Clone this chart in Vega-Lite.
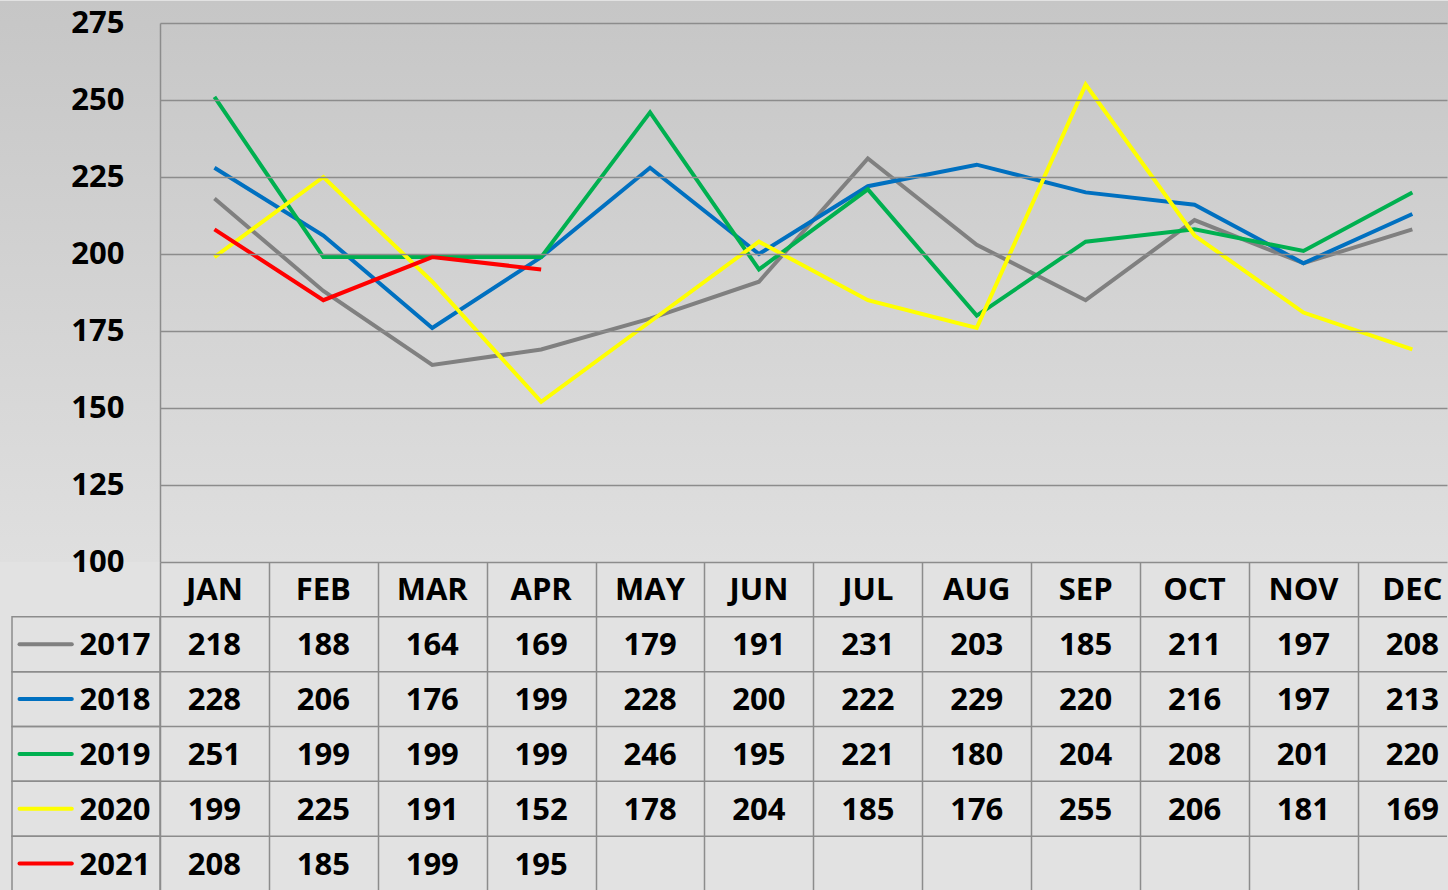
{
  "$schema": "https://vega.github.io/schema/vega-lite/v6.json",
  "background": "#e2e2e2",
  "padding": 0,
  "autosize": {"type": "pad"},
  "spacing": 0,
  "bounds": "flush",
  "config": {"view": {"stroke": null}, "font": "Open Sans", "text": {"font": "Open Sans"}},
  "resolve": {"scale": {"x": "independent", "y": "independent"}},
  "data": {"values": [
    {"year": "2017", "m": 1, "month": "JAN", "v": 218}, {"year": "2017", "m": 2, "month": "FEB", "v": 188}, {"year": "2017", "m": 3, "month": "MAR", "v": 164}, {"year": "2017", "m": 4, "month": "APR", "v": 169}, {"year": "2017", "m": 5, "month": "MAY", "v": 179}, {"year": "2017", "m": 6, "month": "JUN", "v": 191}, {"year": "2017", "m": 7, "month": "JUL", "v": 231}, {"year": "2017", "m": 8, "month": "AUG", "v": 203}, {"year": "2017", "m": 9, "month": "SEP", "v": 185}, {"year": "2017", "m": 10, "month": "OCT", "v": 211}, {"year": "2017", "m": 11, "month": "NOV", "v": 197}, {"year": "2017", "m": 12, "month": "DEC", "v": 208},
    {"year": "2018", "m": 1, "month": "JAN", "v": 228}, {"year": "2018", "m": 2, "month": "FEB", "v": 206}, {"year": "2018", "m": 3, "month": "MAR", "v": 176}, {"year": "2018", "m": 4, "month": "APR", "v": 199}, {"year": "2018", "m": 5, "month": "MAY", "v": 228}, {"year": "2018", "m": 6, "month": "JUN", "v": 200}, {"year": "2018", "m": 7, "month": "JUL", "v": 222}, {"year": "2018", "m": 8, "month": "AUG", "v": 229}, {"year": "2018", "m": 9, "month": "SEP", "v": 220}, {"year": "2018", "m": 10, "month": "OCT", "v": 216}, {"year": "2018", "m": 11, "month": "NOV", "v": 197}, {"year": "2018", "m": 12, "month": "DEC", "v": 213},
    {"year": "2019", "m": 1, "month": "JAN", "v": 251}, {"year": "2019", "m": 2, "month": "FEB", "v": 199}, {"year": "2019", "m": 3, "month": "MAR", "v": 199}, {"year": "2019", "m": 4, "month": "APR", "v": 199}, {"year": "2019", "m": 5, "month": "MAY", "v": 246}, {"year": "2019", "m": 6, "month": "JUN", "v": 195}, {"year": "2019", "m": 7, "month": "JUL", "v": 221}, {"year": "2019", "m": 8, "month": "AUG", "v": 180}, {"year": "2019", "m": 9, "month": "SEP", "v": 204}, {"year": "2019", "m": 10, "month": "OCT", "v": 208}, {"year": "2019", "m": 11, "month": "NOV", "v": 201}, {"year": "2019", "m": 12, "month": "DEC", "v": 220},
    {"year": "2020", "m": 1, "month": "JAN", "v": 199}, {"year": "2020", "m": 2, "month": "FEB", "v": 225}, {"year": "2020", "m": 3, "month": "MAR", "v": 191}, {"year": "2020", "m": 4, "month": "APR", "v": 152}, {"year": "2020", "m": 5, "month": "MAY", "v": 178}, {"year": "2020", "m": 6, "month": "JUN", "v": 204}, {"year": "2020", "m": 7, "month": "JUL", "v": 185}, {"year": "2020", "m": 8, "month": "AUG", "v": 176}, {"year": "2020", "m": 9, "month": "SEP", "v": 255}, {"year": "2020", "m": 10, "month": "OCT", "v": 206}, {"year": "2020", "m": 11, "month": "NOV", "v": 181}, {"year": "2020", "m": 12, "month": "DEC", "v": 169},
    {"year": "2021", "m": 1, "month": "JAN", "v": 208}, {"year": "2021", "m": 2, "month": "FEB", "v": 185}, {"year": "2021", "m": 3, "month": "MAR", "v": 199}, {"year": "2021", "m": 4, "month": "APR", "v": 195}
  ]},
  "vconcat": [
    {
      "width": 1287,
      "height": 539,
      "layer": [
        {
          "data": {"values": [{"bg": 1}]},
          "mark": {"type": "rect", "fill": {"gradient": "linear", "x1": 0, "y1": 0, "x2": 0, "y2": 1, "stops": [{"offset": 0, "color": "#c6c6c6"}, {"offset": 1, "color": "#dfdfdf"}]}},
          "encoding": {
            "x": {"datum": -0.96924, "type": "quantitative", "scale": {"domain": [0.5, 12.3182], "nice": false, "zero": false}, "axis": null},
            "x2": {"datum": 12.3274},
            "y": {"datum": 100, "type": "quantitative", "scale": {"domain": [100, 275], "nice": false, "zero": false},
              "axis": {"zindex": 1, "values": [100, 125, 150, 175, 200, 225, 250, 275], "grid": true, "gridColor": "#8c8c8c", "gridWidth": 1.5, "domain": true, "domainColor": "#8c8c8c", "domainWidth": 1.5, "ticks": false, "labelPadding": 36, "labelFont": "Open Sans", "labelFontSize": 31, "labelFontWeight": "bold", "labelColor": "#000000", "title": null}},
            "y2": {"datum": 282.143}
          }
        },
        {
          "mark": {"type": "line", "strokeWidth": 4},
          "encoding": {
            "x": {"field": "m", "type": "quantitative"},
            "y": {"field": "v", "type": "quantitative"},
            "color": {"field": "year", "type": "nominal", "scale": {"domain": ["2017", "2018", "2019", "2020", "2021"], "range": ["#808080", "#0070c0", "#00b050", "#ffff00", "#ff0000"]}, "legend": null}
          }
        }
      ]
    },
    {
      "width": 1287,
      "height": 329,
      "layer": [
        {
          "transform": [{"filter": "datum.m == 1"}],
          "mark": {"type": "rect", "fill": null, "stroke": "#8c8c8c", "strokeWidth": 1.5},
          "encoding": {
            "x": {"datum": -0.859, "type": "quantitative", "scale": {"domain": [0.5, 12.3182], "nice": false, "zero": false},
              "axis": {"values": [0.5, 1.5, 2.5, 3.5, 4.5, 5.5, 6.5, 7.5, 8.5, 9.5, 10.5, 11.5], "grid": true, "gridColor": "#8c8c8c", "gridWidth": 1.5, "labels": false, "ticks": false, "domain": false, "title": null}},
            "x2": {"datum": 0.5},
            "y": {"field": "year", "type": "nominal", "scale": {"domain": ["MON", "2017", "2018", "2019", "2020", "2021"], "paddingInner": 0, "paddingOuter": 0},
              "axis": {"labelExpr": "datum.value == 'MON' ? '' : datum.value", "domain": false, "ticks": false, "grid": false, "labelPadding": 10, "labelOffset": 2, "labelFont": "Open Sans", "labelFontSize": 31, "labelFontWeight": "bold", "labelColor": "#000000", "title": null}}
          }
        },
        {
          "transform": [{"filter": "datum.m == 1"}],
          "mark": {"type": "rule", "color": "#8c8c8c", "strokeWidth": 1.5},
          "encoding": {
            "x": {"datum": 0.5, "type": "quantitative"},
            "x2": {"datum": 12.3182},
            "y": {"field": "year", "type": "nominal", "bandPosition": 0}
          }
        },
        {
          "transform": [{"filter": "datum.m == 1"}],
          "mark": {"type": "rule", "strokeWidth": 4, "strokeCap": "round"},
          "encoding": {
            "x": {"datum": -0.79, "type": "quantitative"},
            "x2": {"datum": -0.31},
            "y": {"field": "year", "type": "nominal"},
            "color": {"field": "year", "type": "nominal", "scale": {"domain": ["2017", "2018", "2019", "2020", "2021"], "range": ["#808080", "#0070c0", "#00b050", "#ffff00", "#ff0000"]}, "legend": null}
          }
        },
        {
          "mark": {"type": "text", "font": "Open Sans", "fontSize": 31, "fontWeight": "bold", "color": "#000000", "dy": 2},
          "encoding": {
            "x": {"field": "m", "type": "quantitative"},
            "y": {"field": "year", "type": "nominal"},
            "text": {"field": "v", "type": "quantitative"}
          }
        },
        {
          "transform": [{"filter": "datum.year == '2017'"}],
          "mark": {"type": "text", "font": "Open Sans", "fontSize": 31, "fontWeight": "bold", "color": "#000000", "dy": 2},
          "encoding": {
            "x": {"field": "m", "type": "quantitative"},
            "y": {"datum": "MON", "type": "nominal"},
            "text": {"field": "month", "type": "nominal"}
          }
        }
      ]
    }
  ]
}
